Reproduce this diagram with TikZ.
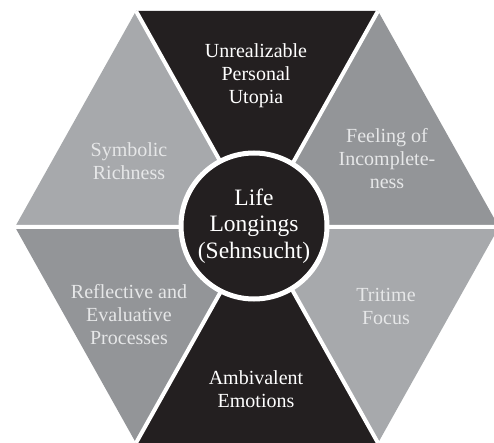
\documentclass[tikz,border=0pt]{standalone}
\usepackage{fontspec}
\setmainfont{Liberation Serif}
\usepackage{tikz}

\definecolor{ink}{HTML}{231F20}
\definecolor{palegray}{HTML}{A7A9AC}
\definecolor{deepgray}{HTML}{939598}
\definecolor{paletext}{HTML}{E6E7E8}

\tikzset{
	wedgetext/.style={align=center, font=\fontsize{20}{23}\selectfont, text=paletext},
	darktext/.style={wedgetext, text=white},
	hub/.style={circle, fill=ink, draw=white, line width=5pt, minimum size=146pt,
		align=center, text=white, font=\fontsize{23.5}{26.5}\selectfont},
}

\begin{document}
\begin{tikzpicture}[x=1pt, y=-1pt]
	\clip (0,0) rectangle (494,443);
	\fill[white] (0,0) rectangle (494,443);
	% corners of the hexagon and its middle
	\coordinate (o) at (256,227);
	\coordinate (l) at (15,227);
	\coordinate (tl) at (136,11);
	\coordinate (tr) at (378,11);
	\coordinate (r) at (499,227);
	\coordinate (br) at (378,443);
	\coordinate (bl) at (136,443);

	\fill[ink] (tl) -- (tr) -- (o) -- cycle;
	\fill[deepgray] (tr) -- (r) -- (o) -- cycle;
	\fill[palegray] (r) -- (br) -- (o) -- cycle;
	\fill[ink] (br) -- (bl) -- (o) -- cycle;
	\fill[deepgray] (bl) -- (l) -- (o) -- cycle;
	\fill[palegray] (l) -- (tl) -- (o) -- cycle;
	% white gaps between the wedges
	\draw[white, line width=4pt] (l) -- (r) (tl) -- (br) (tr) -- (bl);

	\node[darktext] (utopia) at (256,76) {Unrealizable\\Personal\\Utopia};
	\node[wedgetext] (symbolic) at (129,161) {Symbolic\\Richness};
	\node[wedgetext] (feeling) at (387,159) {Feeling of\\Incomplete-\\ness};
	\node[wedgetext] (reflective) at (129,315) {Reflective and\\Evaluative\\Processes};
	\node[wedgetext] (tritime) at (386,306) {Tritime\\Focus};
	\node[darktext] (ambivalent) at (256,389) {Ambivalent\\Emotions};

	\node[hub] (longings) at (254,226) {Life\\Longings\\(Sehnsucht)};
\end{tikzpicture}
\end{document}
